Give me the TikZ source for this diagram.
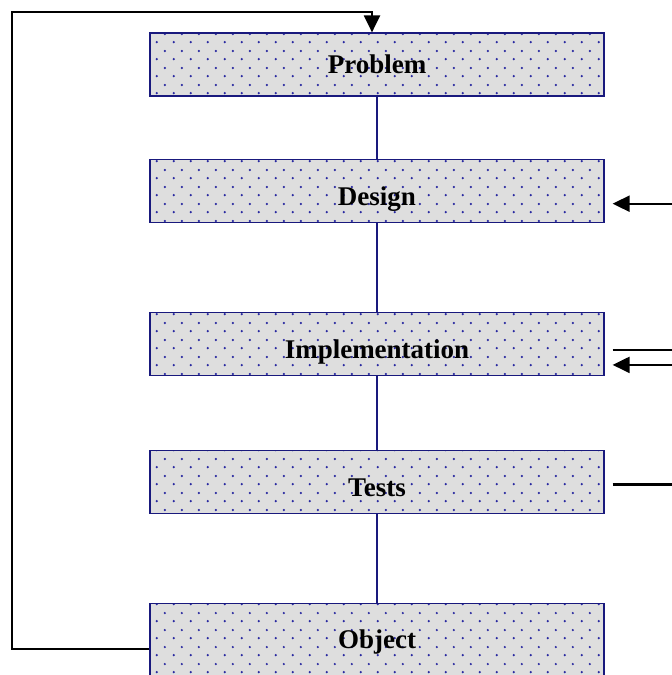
\documentclass[tikz,border=0pt]{standalone}
\usepackage{fontspec}
\setmainfont{Liberation Serif}
\usetikzlibrary{arrows.meta,positioning,calc,patterns}
\definecolor{boxgrey}{RGB}{222,222,222}
\definecolor{dotblue}{RGB}{40,40,160}
\definecolor{edgeblue}{RGB}{25,25,125}
\pgfdeclarepatternformonly{stagdots}{\pgfqpoint{0pt}{0pt}}{\pgfqpoint{17pt}{17pt}}{\pgfqpoint{17pt}{17pt}}{%
  \pgfpathcircle{\pgfqpoint{4pt}{4pt}}{1.3pt}
  \pgfpathcircle{\pgfqpoint{12.5pt}{12.5pt}}{1.3pt}
  \pgfusepath{fill}}
\tikzset{
  stage/.style = {draw=edgeblue, line width=1.2pt, preaction={fill=boxgrey},
                  pattern=stagdots, pattern color=dotblue,
                  minimum width=454pt, minimum height=63pt, inner sep=0pt,
                  text depth=0pt, text height=29pt,
                  font=\fontsize{27}{31}\selectfont\bfseries},
  link/.style  = {draw=edgeblue, line width=1.3pt},
  sig/.style   = {-{Triangle[length=17pt,width=16pt]}, line width=2.2pt},
  wire/.style  = {line width=2.2pt},
}

\begin{document}
\begin{tikzpicture}[x=1pt,y=1pt]
  \useasboundingbox (0,0) rectangle (672,675);
  \node[stage, text height=18pt] (prob) at (377,610.5) {Problem};
  \node[stage, below=62pt of prob] (design) {Design};
  \node[stage, below=89pt of design] (impl) {Implementation};
  \node[stage, below=74pt of impl] (tests) {Tests};
  \node[stage, minimum height=76pt, text height=14pt, below=89pt of tests] (obj) {Object};
  \draw[link] (prob) -- (design);
  \draw[link] (design) -- (impl);
  \draw[link] (impl) -- (tests);
  \draw[link] (tests) -- (obj);
  % return path from the object back to the problem
  \coordinate (loop) at (12,663);
  \draw[sig] ($(obj.west)+(0,-7)$) -| (loop) -| ($(prob.north)+(-5,0)$);
  % inputs and outputs on the right
  \coordinate (din) at ($(design.east)+(68,-13)$);
  \coordinate (iout) at ($(impl.east)+(68,-6)$);
  \coordinate (iin) at ($(impl.east)+(68,-21)$);
  \coordinate (tout) at ($(tests.east)+(68,-2.5)$);
  \draw[sig, shorten >=8pt] (din) -- (din -| design.east);
  \draw[wire, shorten <=8pt] (iout -| impl.east) -- (iout);
  \draw[sig, shorten >=8pt] (iin) -- (iin -| impl.east);
  \draw[wire, shorten <=8pt] (tout -| tests.east) -- (tout);
\end{tikzpicture}
\end{document}
